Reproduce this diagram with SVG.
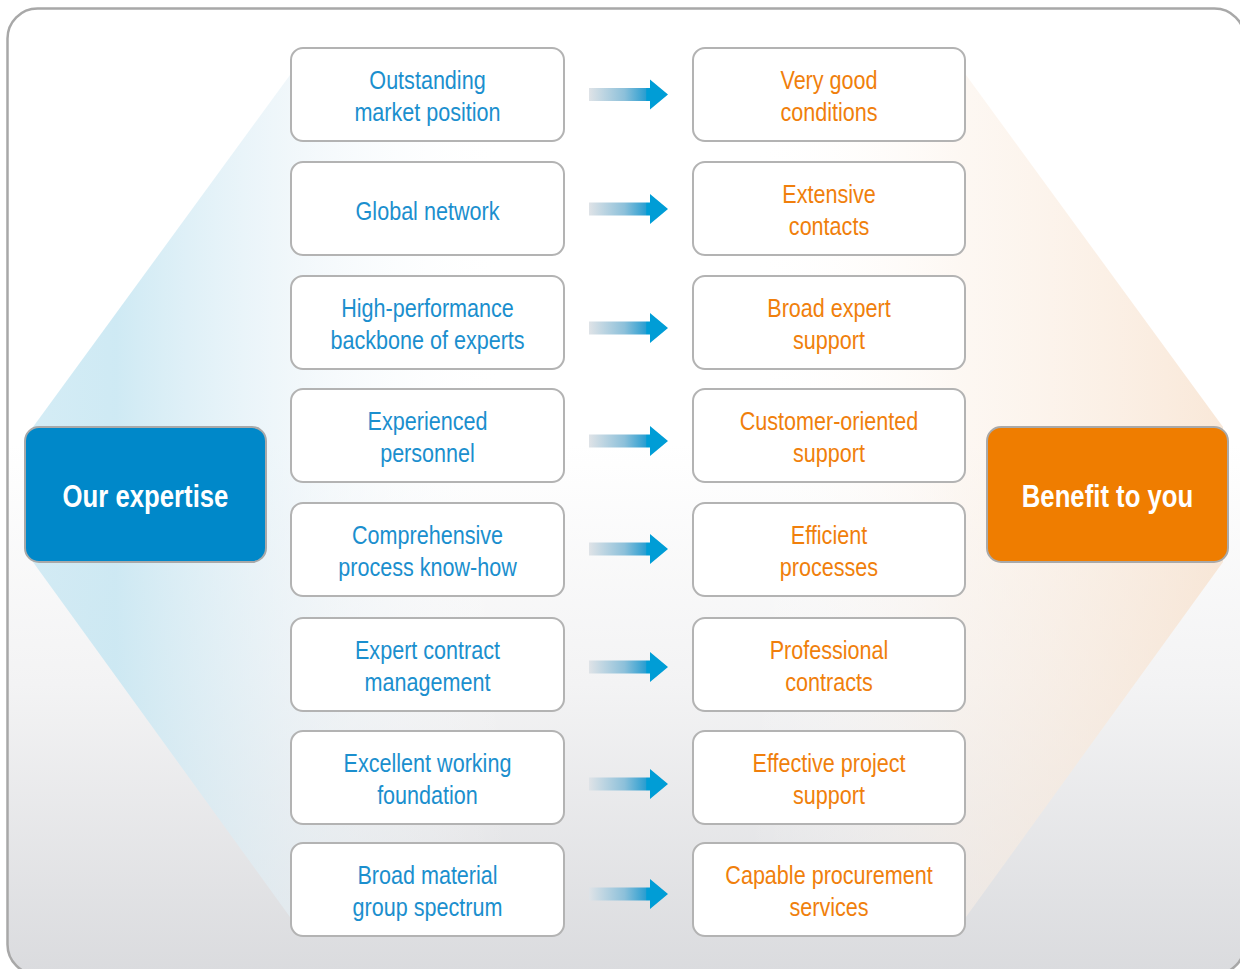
<svg xmlns="http://www.w3.org/2000/svg" xmlns:xlink="http://www.w3.org/1999/xlink" width="1240" height="969" viewBox="0 0 1240 969">
<style>
.box{fill:#ffffff;stroke:#b3b3b3;stroke-width:2}
.t{font-family:"Liberation Sans",Arial,sans-serif;font-size:26px;text-anchor:middle}
.bl{fill:#1b8fce}
.or{fill:#f07f0c}
.big{font-family:"Liberation Sans",Arial,sans-serif;font-size:31px;font-weight:bold;fill:#ffffff;text-anchor:middle}
</style>
<defs>
<linearGradient id="bg" x1="0" y1="0" x2="0" y2="1">
<stop offset="0" stop-color="#ffffff"/>
<stop offset="0.45" stop-color="#ffffff"/>
<stop offset="0.7" stop-color="#f3f3f4"/>
<stop offset="1" stop-color="#dadbde"/>
</linearGradient>
<linearGradient id="hex" gradientUnits="userSpaceOnUse" x1="32" y1="0" x2="1224" y2="0">
<stop offset="0" stop-color="#c6e6f2" stop-opacity="0.75"/>
<stop offset="0.07" stop-color="#c6e6f2" stop-opacity="0.85"/>
<stop offset="0.22" stop-color="#e6f1f7" stop-opacity="0.55"/>
<stop offset="0.4" stop-color="#ffffff" stop-opacity="0"/>
<stop offset="0.6" stop-color="#ffffff" stop-opacity="0"/>
<stop offset="0.78" stop-color="#fbf0e6" stop-opacity="0.5"/>
<stop offset="1" stop-color="#f7e0cb" stop-opacity="0.75"/>
</linearGradient>
<linearGradient id="arrg" x1="0" y1="0" x2="1" y2="0">
<stop offset="0" stop-color="#dfe3e7"/>
<stop offset="0.45" stop-color="#8cc0da"/>
<stop offset="0.72" stop-color="#2a9ed1"/>
<stop offset="0.73" stop-color="#009dd6"/>
<stop offset="1" stop-color="#009dd6"/>
</linearGradient>
<path id="arrow" d="M589,-6.5 H650 V-15 L668,0 L650,15 V6.5 H589 Z" fill="url(#arrg)"/>
</defs>

<rect x="7.5" y="8.5" width="1237" height="966" rx="30" fill="url(#bg)" stroke="#a8a8a8" stroke-width="2.5"/>
<polygon points="290,75 33,427 33,562 290,917 966,917 1223,562 1223,427 966,75" fill="url(#hex)"/>

<g id="connectors">
<use xlink:href="#arrow" y="94.5"/>
<use xlink:href="#arrow" y="209"/>
<use xlink:href="#arrow" y="328"/>
<use xlink:href="#arrow" y="441"/>
<use xlink:href="#arrow" y="549"/>
<use xlink:href="#arrow" y="667"/>
<use xlink:href="#arrow" y="784"/>
<use xlink:href="#arrow" y="894"/>
</g>

<g id="our-expertise">
<rect x="25" y="427" width="241" height="135" rx="14" fill="#0088c9" stroke="#a9a9a9" stroke-width="2"/>
<g transform="translate(145.5,0) scale(0.83,1)"><text class="big" x="0" y="507">Our expertise</text></g>
</g>
<g id="benefit">
<rect x="987" y="427" width="241" height="135" rx="14" fill="#ef7d00" stroke="#a9a9a9" stroke-width="2"/>
<g transform="translate(1107.5,0) scale(0.83,1)"><text class="big" x="0" y="507">Benefit to you</text></g>
</g>

<g id="l1"><rect class="box" x="291" y="48" width="273" height="93" rx="12"/><g transform="translate(427.5,0) scale(0.83,1)"><text class="t bl" x="0" y="89">Outstanding</text><text class="t bl" x="0" y="121">market position</text></g></g>
<g id="l2"><rect class="box" x="291" y="162" width="273" height="93" rx="12"/><g transform="translate(427.5,0) scale(0.83,1)"><text class="t bl" x="0" y="220">Global network</text></g></g>
<g id="l3"><rect class="box" x="291" y="276" width="273" height="93" rx="12"/><g transform="translate(427.5,0) scale(0.83,1)"><text class="t bl" x="0" y="317">High-performance</text><text class="t bl" x="0" y="349">backbone of experts</text></g></g>
<g id="l4"><rect class="box" x="291" y="389" width="273" height="93" rx="12"/><g transform="translate(427.5,0) scale(0.83,1)"><text class="t bl" x="0" y="430">Experienced</text><text class="t bl" x="0" y="462">personnel</text></g></g>
<g id="l5"><rect class="box" x="291" y="503" width="273" height="93" rx="12"/><g transform="translate(427.5,0) scale(0.83,1)"><text class="t bl" x="0" y="544">Comprehensive</text><text class="t bl" x="0" y="576">process know-how</text></g></g>
<g id="l6"><rect class="box" x="291" y="618" width="273" height="93" rx="12"/><g transform="translate(427.5,0) scale(0.83,1)"><text class="t bl" x="0" y="659">Expert contract</text><text class="t bl" x="0" y="691">management</text></g></g>
<g id="l7"><rect class="box" x="291" y="731" width="273" height="93" rx="12"/><g transform="translate(427.5,0) scale(0.83,1)"><text class="t bl" x="0" y="772">Excellent working</text><text class="t bl" x="0" y="804">foundation</text></g></g>
<g id="l8"><rect class="box" x="291" y="843" width="273" height="93" rx="12"/><g transform="translate(427.5,0) scale(0.83,1)"><text class="t bl" x="0" y="884">Broad material</text><text class="t bl" x="0" y="916">group spectrum</text></g></g>

<g id="r1"><rect class="box" x="693" y="48" width="272" height="93" rx="12"/><g transform="translate(829,0) scale(0.83,1)"><text class="t or" x="0" y="89">Very good</text><text class="t or" x="0" y="121">conditions</text></g></g>
<g id="r2"><rect class="box" x="693" y="162" width="272" height="93" rx="12"/><g transform="translate(829,0) scale(0.83,1)"><text class="t or" x="0" y="203">Extensive</text><text class="t or" x="0" y="235">contacts</text></g></g>
<g id="r3"><rect class="box" x="693" y="276" width="272" height="93" rx="12"/><g transform="translate(829,0) scale(0.83,1)"><text class="t or" x="0" y="317">Broad expert</text><text class="t or" x="0" y="349">support</text></g></g>
<g id="r4"><rect class="box" x="693" y="389" width="272" height="93" rx="12"/><g transform="translate(829,0) scale(0.83,1)"><text class="t or" x="0" y="430">Customer-oriented</text><text class="t or" x="0" y="462">support</text></g></g>
<g id="r5"><rect class="box" x="693" y="503" width="272" height="93" rx="12"/><g transform="translate(829,0) scale(0.83,1)"><text class="t or" x="0" y="544">Efficient</text><text class="t or" x="0" y="576">processes</text></g></g>
<g id="r6"><rect class="box" x="693" y="618" width="272" height="93" rx="12"/><g transform="translate(829,0) scale(0.83,1)"><text class="t or" x="0" y="659">Professional</text><text class="t or" x="0" y="691">contracts</text></g></g>
<g id="r7"><rect class="box" x="693" y="731" width="272" height="93" rx="12"/><g transform="translate(829,0) scale(0.83,1)"><text class="t or" x="0" y="772">Effective project</text><text class="t or" x="0" y="804">support</text></g></g>
<g id="r8"><rect class="box" x="693" y="843" width="272" height="93" rx="12"/><g transform="translate(829,0) scale(0.83,1)"><text class="t or" x="0" y="884">Capable procurement</text><text class="t or" x="0" y="916">services</text></g></g>
</svg>
